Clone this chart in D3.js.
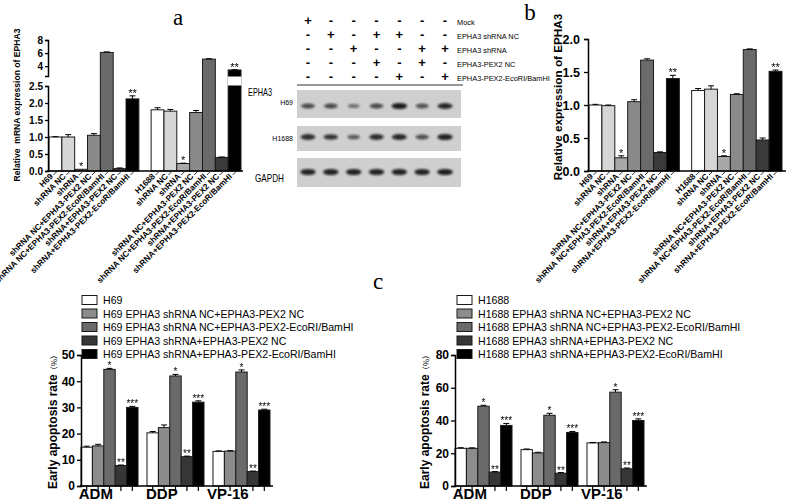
<!DOCTYPE html>
<html>
<head>
<meta charset="utf-8">
<script src="https://cdn.jsdelivr.net/npm/d3@7"></script>
<style>
  body { margin: 0; background: #fff; }
  svg { display: block; font-family: Arial, "Liberation Sans", sans-serif; }
  .star { opacity: 0.999; }
</style>
</head>
<body>
<svg id="fig" width="787" height="502"></svg>
<script>
// ---------- data ----------
const cellLines = ['H69', 'H1688'];
const treatments = ['shRNA NC', 'shRNA', 'shRNA NC+EPHA3-PEX2 NC', 'shRNA NC+EPHA3-PEX2-EcoR/BamHI',
  'shRNA+EPHA3-PEX2 NC', 'shRNA+EPHA3-PEX2-EcoR/BamHI'];

// panel a - relative mRNA
const mrnaH69 = [1.0, 1.0, 0.05, 1.05, 6.1, 0.07, 2.12];
const mrnaH69Err = [0.01, 0.07, 0.0, 0.05, 0.08, 0.02, 0.09];
const mrnaH1688 = [1.8, 1.76, 0.22, 1.72, 5.08, 0.4, 3.42];
const mrnaH1688Err = [0.06, 0.05, 0.01, 0.06, 0.06, 0.01, 0.04];
const mrnaLowTicks = [0, 0.5, 1.0, 1.5, 2.0, 2.5];
const mrnaHighTicks = [4, 6, 8];

// panel b - relative protein
const protH69 = [1.0, 0.99, 0.2, 1.05, 1.68, 0.28, 1.4];
const protH69Err = [0.01, 0.01, 0.03, 0.03, 0.02, 0.01, 0.05];
const protH1688 = [1.22, 1.24, 0.22, 1.16, 1.84, 0.47, 1.51];
const protH1688Err = [0.03, 0.05, 0.01, 0.01, 0.01, 0.03, 0.02];
const protTicks = [0, 0.5, 1.0, 1.5, 2.0];
const exprStars = ['', '', '*', '', '', '', '**'];

// western blot
const blotRows = ['Mock', 'EPHA3 shRNA NC', 'EPHA3 shRNA', 'EPHA3-PEX2 NC', 'EPHA3-PEX2-EcoRI/BamHI'];
const blotSigns = [
  [1, 0, 0, 0, 0, 0, 0],
  [0, 1, 0, 1, 1, 0, 0],
  [0, 0, 1, 0, 0, 1, 1],
  [0, 0, 0, 1, 0, 1, 0],
  [0, 0, 0, 0, 1, 0, 1]
];
const bandH69 = [0.6, 0.6, 0.3, 0.6, 0.95, 0.5, 0.85];
const bandH1688 = [0.8, 0.75, 0.45, 0.8, 0.85, 0.55, 0.9];
const bandGAPDH = [0.9, 0.9, 0.9, 0.9, 0.9, 0.9, 0.95];

// panel c - early apoptosis
const drugs = ['ADM', 'DDP', 'VP-16'];
const apoSeries = ['EPHA3 shRNA NC+EPHA3-PEX2 NC', 'EPHA3 shRNA NC+EPHA3-PEX2-EcoRI/BamHI',
  'EPHA3 shRNA+EPHA3-PEX2 NC', 'EPHA3 shRNA+EPHA3-PEX2-EcoRI/BamHI'];
const apoH69 = [[14.8, 15.3, 44.5, 7.8, 30.0], [20.3, 22.3, 42.0, 11.2, 32.0], [13.2, 13.3, 43.5, 5.5, 29.0]];
const apoH69Err = [[0.4, 0.6, 0.4, 0.2, 0.4], [0.5, 1.0, 0.6, 0.2, 0.5], [0.2, 0.2, 0.8, 0.2, 0.3]];
const apoH1688 = [[23.0, 23.0, 48.7, 8.5, 37.0], [22.2, 20.2, 43.2, 7.8, 32.7], [26.3, 26.5, 57.3, 10.5, 40.0]];
const apoH1688Err = [[0.4, 0.3, 0.6, 0.3, 1.2], [0.4, 0.4, 1.2, 0.4, 0.6], [0.3, 0.4, 1.5, 0.5, 1.0]];
const apoStars = ['', '', '*', '**', '***'];
const apoH69Ticks = [0, 10, 20, 30, 40, 50];
const apoH1688Ticks = [0, 20, 40, 60, 80];

// ---------- styles ----------
const greys7 = ['#ffffff', '#d6d6d6', '#a8a8a8', '#8a8a8a', '#6a6a6a', '#3a3a3a', '#000000'];
const greys5 = ['#ffffff', '#8c8c8c', '#6a6a6a', '#363636', '#000000'];

const svg = d3.select('#fig');
svg.append('rect').attr('width', 787).attr('height', 502).attr('fill', '#fff');

const defs = svg.append('defs');
defs.append('filter').attr('id', 'blur').attr('x', '-50%').attr('y', '-100%').attr('width', '200%').attr('height', '300%')
  .append('feGaussianBlur').attr('stdDeviation', 1.1);

function styleAxis(g, fontSize) {
  g.selectAll('.domain').attr('stroke', '#000').attr('stroke-width', 1.5);
  g.selectAll('.tick line').attr('stroke', '#000').attr('stroke-width', 1.3);
  g.selectAll('.tick text').attr('font-size', fontSize).attr('font-weight', 'bold')
    .attr('font-family', 'Arial, "Liberation Sans", sans-serif').attr('fill', '#000');
}

// grouped bars with error caps and stars
function groupedBars(g, cfg) {
  const x0 = d3.scaleBand().domain(cfg.groups).range(cfg.xRange).paddingInner(cfg.gap);
  const x1 = d3.scaleBand().domain(d3.range(cfg.values[0].length)).range([0, x0.bandwidth()]);
  const y = cfg.y;
  const rows = [];
  cfg.groups.forEach((gr, gi) => cfg.values[gi].forEach((v, i) =>
    rows.push({ gr, gi, i, v, e: cfg.errs[gi][i], s: cfg.stars[i] })));
  const cx = d => x0(d.gr) + x1(d.i) + x1.bandwidth() / 2;

  g.selectAll('rect.bar').data(rows).join('rect')
    .attr('class', 'bar')
    .attr('x', d => x0(d.gr) + x1(d.i))
    .attr('y', d => y(d.v))
    .attr('width', x1.bandwidth())
    .attr('height', d => y(0) - y(d.v))
    .attr('fill', d => cfg.colors[d.i])
    .attr('stroke', '#1a1a1a').attr('stroke-width', 1);

  const eb = g.selectAll('g.err').data(rows.filter(d => d.e > 0)).join('g').attr('class', 'err')
    .attr('stroke', '#000').attr('stroke-width', 1);
  eb.append('line').attr('x1', cx).attr('x2', cx).attr('y1', d => y(d.v)).attr('y2', d => y(d.v + d.e));
  eb.append('line').attr('x1', d => cx(d) - 3).attr('x2', d => cx(d) + 3)
    .attr('y1', d => y(d.v + d.e)).attr('y2', d => y(d.v + d.e));

  g.selectAll('text.star').data(rows.filter(d => d.s)).join('text')
    .attr('class', 'star')
    .attr('x', cx).attr('y', d => y(d.v + d.e) + 1)
    .attr('text-anchor', 'middle').attr('font-size', cfg.starSize).attr('fill', '#000')
    .text(d => d.s);

  return { x0, x1, rows, cx };
}

// rotated labels below panels a and b
function slantLabels(g, res, yBase) {
  const labels = res.rows.map(d => d.i === 0 ? d.gr : treatments[d.i - 1]);
  g.selectAll('line.stick').data(res.rows).join('line')
    .attr('x1', d => res.cx(d) + 1).attr('y1', yBase + 1)
    .attr('x2', d => res.cx(d) - 2).attr('y2', yBase + 4)
    .attr('stroke', '#000').attr('stroke-width', 0.8);
  g.selectAll('text.slant').data(res.rows).join('text')
    .attr('class', 'slant')
    .attr('transform', d => `translate(${res.cx(d) - 2},${yBase + 6}) rotate(-45)`)
    .attr('text-anchor', 'end').attr('font-size', 8.3).attr('font-weight', 'bold')
    .text((d, k) => labels[k]);
}

// ---------- panel a ----------
const pa = svg.append('g');
const yLow = d3.scaleLinear().domain([0, 2.5]).range([171, 86]);
const yHigh = d3.scaleLinear().domain([2.5, 8]).range([76, 40]);
const yA = v => v <= 2.5 ? yLow(v) : yHigh(v);
const resA = groupedBars(pa, {
  groups: cellLines, values: [mrnaH69, mrnaH1688], errs: [mrnaH69Err, mrnaH1688Err],
  stars: exprStars, xRange: [49, 241], gap: 0.12, y: yA, colors: greys7, starSize: 11
});
// axis break gap on the black bar
pa.selectAll('rect.gap').data(resA.rows.filter(d => d.i === 6 && d.v > 2.5)).join('rect')
  .attr('x', d => resA.x0(d.gr) + resA.x1(d.i) - 0.5).attr('width', resA.x1.bandwidth() + 1)
  .attr('y', yHigh(2.5) + 0.5).attr('height', yLow(2.5) - yHigh(2.5) - 1).attr('fill', '#fff');
pa.append('g').attr('transform', 'translate(48,0)')
  .call(d3.axisLeft(yLow).tickValues(mrnaLowTicks).tickFormat(d3.format('.1f')).tickSize(3).tickPadding(2))
  .call(g => styleAxis(g, 10));
pa.append('g').attr('transform', 'translate(48,0)')
  .call(d3.axisLeft(yHigh).tickValues(mrnaHighTicks).tickFormat(d3.format('d')).tickSize(3).tickPadding(2))
  .call(g => styleAxis(g, 10));
pa.append('line').attr('x1', 47).attr('x2', 243).attr('y1', 171).attr('y2', 171)
  .attr('stroke', '#000').attr('stroke-width', 1.5);
slantLabels(pa, resA, 171);
pa.append('text').attr('transform', 'translate(20,105) rotate(-90)')
  .attr('text-anchor', 'middle').attr('font-size', 8.6).attr('font-weight', 'bold')
  .attr('xml:space', 'preserve')
  .text('Relative  mRNA expression of EPHA3');

// ---------- panel b ----------
const pb = svg.append('g');
const yB = d3.scaleLinear().domain([0, 2]).range([171, 39]);
const resB = groupedBars(pb, {
  groups: cellLines, values: [protH69, protH1688], errs: [protH69Err, protH1688Err],
  stars: exprStars, xRange: [589, 782], gap: 0.12, y: yB, colors: greys7, starSize: 11
});
pb.append('g').attr('transform', 'translate(588,0)')
  .call(d3.axisLeft(yB).tickValues(protTicks).tickFormat(d3.format('.1f')).tickSize(4).tickPadding(4))
  .call(g => styleAxis(g, 12.5));
pb.append('line').attr('x1', 587).attr('x2', 786).attr('y1', 171).attr('y2', 171)
  .attr('stroke', '#000').attr('stroke-width', 1.5);
slantLabels(pb, resB, 171);
pb.append('text').attr('transform', 'translate(562,97) rotate(-90)')
  .attr('text-anchor', 'middle').attr('font-size', 11.7).attr('font-weight', 'bold')
  .text('Relative expression of EPHA3');

// ---------- western blot ----------
const wb = svg.append('g');
const colX = d3.scalePoint().domain(d3.range(7)).range([308, 445]);
const rowY = d3.scalePoint().domain(d3.range(blotRows.length)).range([20, 76]);
blotSigns.forEach((row, ri) => {
  wb.selectAll(null).data(row).join('text')
    .attr('x', (d, j) => colX(j)).attr('y', rowY(ri))
    .attr('text-anchor', 'middle').attr('dominant-baseline', 'central')
    .attr('font-size', 13).attr('font-weight', 'bold')
    .text(d => d ? '+' : '-');
});
wb.selectAll('text.rowlab').data(blotRows).join('text')
  .attr('class', 'rowlab')
  .attr('x', 457).attr('y', (d, i) => rowY(i) + 2)
  .attr('dominant-baseline', 'central').attr('font-size', 7.4)
  .text(d => d);
wb.append('line').attr('x1', 297).attr('x2', 463).attr('y1', 85).attr('y2', 85)
  .attr('stroke', '#333').attr('stroke-width', 1);

const blots = [
  { name: 'H69', bands: bandH69, y0: 90, y1: 118, by: 106 },
  { name: 'H1688', bands: bandH1688, y0: 126, y1: 151, by: 137 },
  { name: 'GAPDH', bands: bandGAPDH, y0: 158, y1: 187, by: 172 }
];
blots.forEach(b => {
  wb.append('rect').attr('x', 297).attr('y', b.y0).attr('width', 164).attr('height', b.y1 - b.y0)
    .attr('fill', '#cfcfcf');
  wb.selectAll(null).data(b.bands).join('ellipse')
    .attr('cx', (d, j) => colX(j)).attr('cy', b.by)
    .attr('rx', d => 5 + d * 3).attr('ry', d => 1.6 + d * 1.6)
    .attr('fill', '#111').attr('fill-opacity', d => 0.35 + d * 0.6)
    .attr('filter', 'url(#blur)');
});
wb.append('text').attr('x', 293).attr('y', 105).attr('text-anchor', 'end').attr('font-size', 7).text('H69');
wb.append('text').attr('x', 293).attr('y', 141).attr('text-anchor', 'end').attr('font-size', 7).text('H1688');
wb.append('text').attr('x', 248).attr('y', 96).attr('font-size', 11)
  .attr('textLength', 24).attr('lengthAdjust', 'spacingAndGlyphs').text('EPHA3');
wb.append('text').attr('x', 255).attr('y', 182).attr('font-size', 11)
  .attr('textLength', 29).attr('lengthAdjust', 'spacingAndGlyphs').text('GAPDH');

// ---------- panel c ----------
function apoptosisPanel(cfg) {
  const g = svg.append('g');
  const y = d3.scaleLinear().domain([0, cfg.max]).range([486, 355]);
  const res = groupedBars(g, {
    groups: drugs, values: cfg.values, errs: cfg.errs, stars: apoStars,
    xRange: cfg.xRange, gap: 0.136, y, colors: greys5, starSize: 10
  });
  g.append('g').attr('transform', `translate(${cfg.xRange[0]},0)`)
    .call(d3.axisLeft(y).tickValues(cfg.ticks).tickSize(4).tickPadding(2))
    .call(a => styleAxis(a, 12));
  g.append('line').attr('x1', cfg.xRange[0] - 1).attr('x2', cfg.xRange[1] + 3)
    .attr('y1', 486).attr('y2', 486).attr('stroke', '#000').attr('stroke-width', 1.5);
  g.selectAll('line.xt').data(res.rows).join('line')
    .attr('x1', res.cx).attr('x2', res.cx).attr('y1', 486).attr('y2', 491)
    .attr('stroke', '#000').attr('stroke-width', 1.2);
  g.selectAll('text.drug').data(drugs).join('text')
    .attr('x', d => res.x0(d) + res.x1.bandwidth() * 1.3).attr('y', 499)
    .attr('text-anchor', 'middle').attr('font-size', 15).attr('font-weight', 'bold')
    .text(d => d);
  const yl = g.append('text').attr('transform', `translate(${cfg.labelX},420) rotate(-90)`)
    .attr('text-anchor', 'middle').attr('font-size', 12).attr('font-weight', 'bold');
  yl.append('tspan').text('Early apoptosis rate');
  yl.append('tspan').attr('font-size', 8).attr('font-weight', 'normal')
    .attr('font-family', '"Noto Sans CJK SC", sans-serif').text('（%）');
  // legend
  const items = [cfg.cell].concat(apoSeries.map(s => cfg.cell + ' ' + s));
  const ly = d3.scalePoint().domain(d3.range(items.length)).range([300, 354]);
  const lg = g.selectAll('g.leg').data(items).join('g').attr('class', 'leg')
    .attr('transform', (d, i) => `translate(${cfg.legendX},${ly(i)})`);
  lg.append('rect').attr('x', 0).attr('y', -4.5).attr('width', 15).attr('height', 9)
    .attr('fill', (d, i) => greys5[i]).attr('stroke', '#1a1a1a').attr('stroke-width', 1);
  lg.append('text').attr('x', 21).attr('y', 0).attr('dominant-baseline', 'central')
    .attr('font-size', 10.6).text(d => d);
}
apoptosisPanel({ cell: 'H69', values: apoH69, errs: apoH69Err, max: 50, ticks: apoH69Ticks,
  xRange: [81, 270], labelX: 57, legendX: 82 });
apoptosisPanel({ cell: 'H1688', values: apoH1688, errs: apoH1688Err, max: 80, ticks: apoH1688Ticks,
  xRange: [455, 644], labelX: 429, legendX: 457 });

// ---------- panel letters ----------
const letters = [['a', 178, 25], ['b', 530, 20], ['c', 378, 289]];
svg.selectAll('text.letter').data(letters).join('text')
  .attr('class', 'letter')
  .attr('x', d => d[1]).attr('y', d => d[2]).attr('text-anchor', 'middle')
  .attr('font-family', '"Liberation Serif", "DejaVu Serif", serif').attr('font-size', 23)
  .text(d => d[0]);
</script>
</body>
</html>
